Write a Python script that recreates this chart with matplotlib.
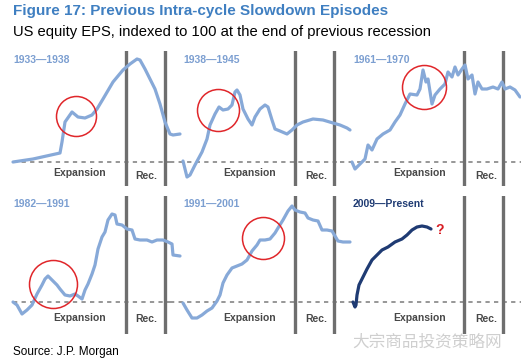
import matplotlib
matplotlib.use("Agg")
import matplotlib.pyplot as plt

plt.rcParams['font.family'] = ['Liberation Sans', 'DejaVu Sans']

# --- data: time (panel units) and EPS index (100 = end of previous recession)
labels = ["1933\u20141938", "1938\u20141945", "1961\u20141970",
          "1982\u20141991", "1991\u20142001", "2009\u2014Present"]

t1 = [13, 33, 60, 62, 65, 72, 78, 85, 92, 97, 103, 113, 123, 130, 137, 140, 145, 150, 155, 160, 165, 170, 173, 180]
v1 = [100, 103, 109, 120, 140, 150, 145, 144, 147, 153, 163, 180, 192, 198, 203, 202, 193, 183, 173, 158, 140, 128, 127, 128]

t2 = [13, 17, 20, 25, 32, 37, 40, 45, 49, 53, 58, 62, 65, 67, 70, 73, 78, 82, 85, 90, 95, 98, 102, 105, 110, 117,
      122, 127, 133, 143, 153, 163, 170, 177, 180]
v2 = [101, 85, 87, 97, 110, 123, 137, 148, 155, 152, 153, 157, 170, 172, 167, 153, 143, 137, 145, 153, 157, 155,
      142, 133, 131, 128, 132, 137, 140, 143, 142, 139, 137, 134, 132]

t3 = [12, 15, 20, 25, 28, 32, 37, 43, 50, 55, 60, 65, 70, 77, 80, 83, 86, 88, 92, 95, 100, 105, 108, 112, 115, 118,
      122, 125, 128, 132, 135, 138, 142, 147, 153, 158, 162, 165, 170, 175, 180]
v3 = [100, 93, 98, 103, 117, 112, 123, 128, 132, 140, 147, 158, 168, 167, 173, 192, 180, 183, 158, 167, 173, 178,
      190, 185, 195, 187, 193, 197, 183, 187, 168, 180, 173, 173, 175, 173, 180, 173, 175, 172, 165]

t4 = [13, 17, 22, 27, 32, 37, 42, 45, 48, 52, 57, 60, 65, 70, 75, 78, 82, 85, 88, 92, 95, 98, 102, 105, 108, 112,
      115, 117, 122, 127, 132, 135, 140, 147, 152, 157, 163, 168, 172, 173, 180]
v4 = [100, 97, 88, 92, 97, 108, 117, 123, 126, 122, 117, 113, 107, 106, 108, 106, 103, 112, 118, 128, 137, 153,
      165, 170, 182, 188, 187, 178, 177, 173, 172, 163, 162, 162, 160, 162, 162, 160, 158, 147, 146]

t5 = [13, 17, 22, 27, 32, 37, 42, 47, 50, 53, 57, 62, 67, 72, 77, 82, 87, 90, 95, 100, 105, 108, 113, 118, 122,
      125, 130, 135, 138, 143, 148, 152, 157, 162, 165, 168, 173, 180]
v5 = [99, 92, 84, 84, 87, 91, 94, 101, 107, 119, 127, 134, 136, 138, 142, 151, 157, 162, 162, 163, 169, 174, 182,
      191, 196, 192, 190, 189, 184, 182, 181, 172, 172, 171, 166, 161, 160, 160]

t6 = [13, 15, 16, 17, 19, 23, 27, 32, 37, 42, 48, 55, 62, 67, 72, 77, 82, 87, 91]
v6 = [100, 95, 97, 107, 117, 125, 133, 142, 147, 152, 155, 160, 163, 167, 172, 175, 176, 175, 173]

series_t = [t1, t2, t3, t4, t5, t6]
series_v = [v1, v2, v3, v4, v5, v6]

# recession start / end for each panel
rec_start = [126, 125, 124, 126, 125, 124]
rec_end = [165, 164, 163, 165, 164, 163]

# highlighted slowdown episodes (t, index, radius)
circles = [(76, 146, 20), (48, 152, 21), (84, 175, 22), (53, 118, 24), (93, 164, 21), None]

light_blue = '#87a9d8'
label_blue = '#7c9fd1'
navy = '#1f3b73'
grey = '#6e6e6e'

W, H = 521, 361
fig = plt.figure(figsize=(W / 100, H / 100), dpi=100)

rows = [(51, 186, 162), (196, 334, 302)]  # top, bottom, baseline in pixels

for i in range(6):
    r, c = divmod(i, 3)
    top, bot, base = rows[r]
    left = 170 * c
    ax = fig.add_axes([left / W, 1 - bot / H, 170 / W, (bot - top) / H])
    ax.set_xlim(0, 170)
    ax.set_ylim(100 - (bot - base), 100 + (base - top))
    ax.axis('off')

    x0 = 13 if c == 0 else 0
    x1 = 181 if c == 2 else 170
    ax.plot([x0, x1], [100, 100], ls=(0, (2.8, 2.8)), color='#7a7a7a', lw=1.1, clip_on=False)

    for xr in (rec_start[i], rec_end[i]):
        ax.axvline(xr, color=grey, lw=2.4)

    col = navy if i == 5 else light_blue
    ax.plot(series_t[i], series_v[i], color=col, lw=2.3, clip_on=False,
            solid_joinstyle='round', solid_capstyle='round')

    if circles[i] is not None:
        cx, cy, rad = circles[i]
        ax.plot([cx], [cy], 'o', ms=rad * 2 * 0.72, mfc='none', mec='#e0262a', mew=1.1, clip_on=False)

    ax.text(13, 100 + (base - top) - (60 - 51) if r == 0 else 198, labels[i],
            color=navy if i == 5 else label_blue, fontsize=7.5, fontweight='bold', va='center', ha='left')

    ey = 88.7 if r == 0 else 84.3
    ry = 86.3 if r == 0 else 83
    ax.text(80, ey, "Expansion", fontsize=7.5, fontweight='bold', color='#484848', ha='center', va='center')
    ax.text(146, ry, "Rec.", fontsize=7.5, fontweight='bold', color='#484848', ha='center', va='center')

    if i == 5:
        ax.text(100, 172, "?", color='#d81e25', fontsize=10, fontweight='bold', ha='center', va='center')

fig.text(13 / W, 1 - 11.5 / H, "Figure 17: Previous Intra-cycle Slowdown Episodes",
         fontsize=11, fontweight='bold', color='#3f7fc1', ha='left', va='center')
fig.text(13 / W, 1 - 32 / H, "US equity EPS, indexed to 100 at the end of previous recession",
         fontsize=10.6, color='black', ha='left', va='center')
fig.text(13 / W, 1 - 352 / H, "Source: J.P. Morgan", fontsize=8.5, color='black', ha='left', va='center')
fig.text(352 / W, 1 - 342 / H, "大宗商品投资策略网", fontsize=12, color='#cfcfcf',
         family=['Noto Sans CJK SC', 'DejaVu Sans'], ha='left', va='center')

fig.savefig('out.png', dpi=100)
